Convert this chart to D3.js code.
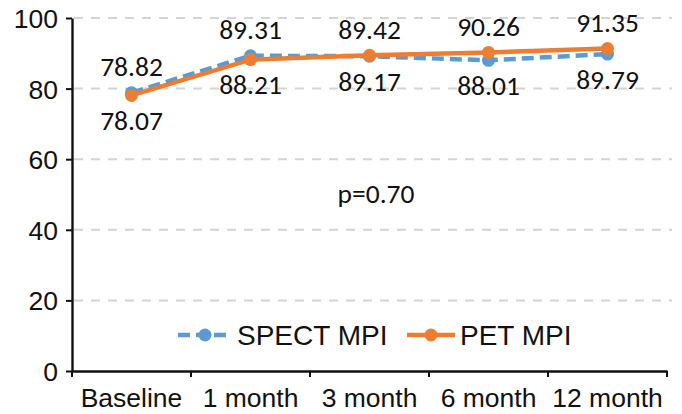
<!DOCTYPE html>
<html><head><meta charset="utf-8">
<script src="https://cdn.jsdelivr.net/npm/d3@7"></script>
<style>body{margin:0;background:#fff}svg{display:block}</style>
</head><body>
<svg id="c" width="682" height="414"></svg>
<script>
const categories = ["Baseline","1 month","3 month","6 month","12 month"];
const spect = [78.82, 89.31, 89.17, 88.01, 89.79];
const pet = [78.07, 88.21, 89.42, 90.26, 91.35];
const spectLabelPos = ["above","above","below","below","below"];
const petLabelPos = ["below","below","above","above","above"];
const yTicks = [0,20,40,60,80,100];
const seriesNames = ["SPECT MPI","PET MPI"];
const pText = "p=0.70";

const svg = d3.select("#c");
const x = d3.scaleBand().domain(categories).range([72,667]);
const y = d3.scaleLinear().domain([0,100]).range([371,18]);
const blue = "#5b9bd5", orange = "#ed7d31";
const axisFont = "'Liberation Sans', Arial, sans-serif";
const labFont = "Carlito, Lato, sans-serif";

// gridlines
svg.append("g").selectAll("line").data(yTicks.filter(d=>d>0)).join("line")
  .attr("x1",74).attr("x2",672).attr("y1",d=>y(d)).attr("y2",d=>y(d))
  .attr("stroke","#d4d4d4").attr("stroke-width",2).attr("stroke-dasharray","9,8");

// y axis
const ya = svg.append("g").attr("transform","translate(72,0)")
  .call(d3.axisLeft(y).tickValues(yTicks).tickSize(6).tickPadding(8).tickSizeOuter(0));
ya.select(".domain").attr("stroke","#111").attr("stroke-width",2.4);
ya.selectAll(".tick line").attr("stroke","#111").attr("stroke-width",2);
ya.selectAll(".tick text").attr("font-family",axisFont).attr("font-size",26.5).attr("fill","#111").attr("dy","0.36em");

// x axis
const xa = svg.append("g").attr("transform","translate(0,371)")
  .call(d3.axisBottom(x).tickSize(0).tickSizeOuter(0));
xa.select(".domain").attr("stroke","#111").attr("stroke-width",2.4);
xa.selectAll(".tick text").attr("font-family",axisFont).attr("font-size",26.5).attr("fill","#111")
  .attr("y",36).attr("dy","0");
const bounds = categories.map(c=>x(c)).concat([x.range()[1]]);
svg.append("g").selectAll("line").data(bounds).join("line")
  .attr("x1",d=>d).attr("x2",d=>d).attr("y1",371).attr("y2",377)
  .attr("stroke","#111").attr("stroke-width",2);

const cx = c => x(c) + x.bandwidth()/2;
const line = d3.line().x((d,i)=>cx(categories[i])).y(d=>y(d));

// SPECT
svg.append("path").datum(spect).attr("d",line).attr("fill","none")
  .attr("stroke",blue).attr("stroke-width",4.5).attr("stroke-dasharray","12,6");
svg.append("g").selectAll("circle").data(spect).join("circle")
  .attr("cx",(d,i)=>cx(categories[i])).attr("cy",d=>y(d)).attr("r",6.5).attr("fill",blue);
// PET
svg.append("path").datum(pet).attr("d",line).attr("fill","none")
  .attr("stroke",orange).attr("stroke-width",4.5);
svg.append("g").selectAll("circle").data(pet).join("circle")
  .attr("cx",(d,i)=>cx(categories[i])).attr("cy",d=>y(d)).attr("r",6.5).attr("fill",orange);

// data labels
function labels(data,pos){
  svg.append("g").selectAll("text").data(data).join("text")
    .attr("x",(d,i)=>cx(categories[i]))
    .attr("y",(d,i)=>pos[i]==="above" ? y(d)-26 : y(d)+25)
    .attr("dy","0.35em")
    .attr("text-anchor","middle").attr("font-family",labFont).attr("font-size",27.5).attr("fill","#111")
    .text(d=>d.toFixed(2));
}
labels(spect,spectLabelPos);
labels(pet,petLabelPos);

svg.append("text").attr("x",376).attr("y",203).attr("text-anchor","middle")
  .attr("font-family",labFont).attr("font-size",27.5).attr("fill","#111").text(pText);

// legend
const leg = [{name:seriesNames[0],color:blue,dash:"12,6",x1:178,x2:232,tx:237},
             {name:seriesNames[1],color:orange,dash:null,x1:407,x2:455,tx:460}];
const lg = svg.append("g");
leg.forEach(l=>{
  lg.append("line").attr("x1",l.x1).attr("x2",l.x2).attr("y1",335).attr("y2",335)
    .attr("stroke",l.color).attr("stroke-width",4.5).attr("stroke-dasharray",l.dash);
  lg.append("circle").attr("cx",(l.x1+l.x2)/2).attr("cy",335).attr("r",6.5).attr("fill",l.color);
  lg.append("text").attr("x",l.tx).attr("y",335).attr("dy","0.36em")
    .attr("font-family",axisFont).attr("font-size",28).attr("fill","#111").text(l.name);
});
</script>
</body></html>
